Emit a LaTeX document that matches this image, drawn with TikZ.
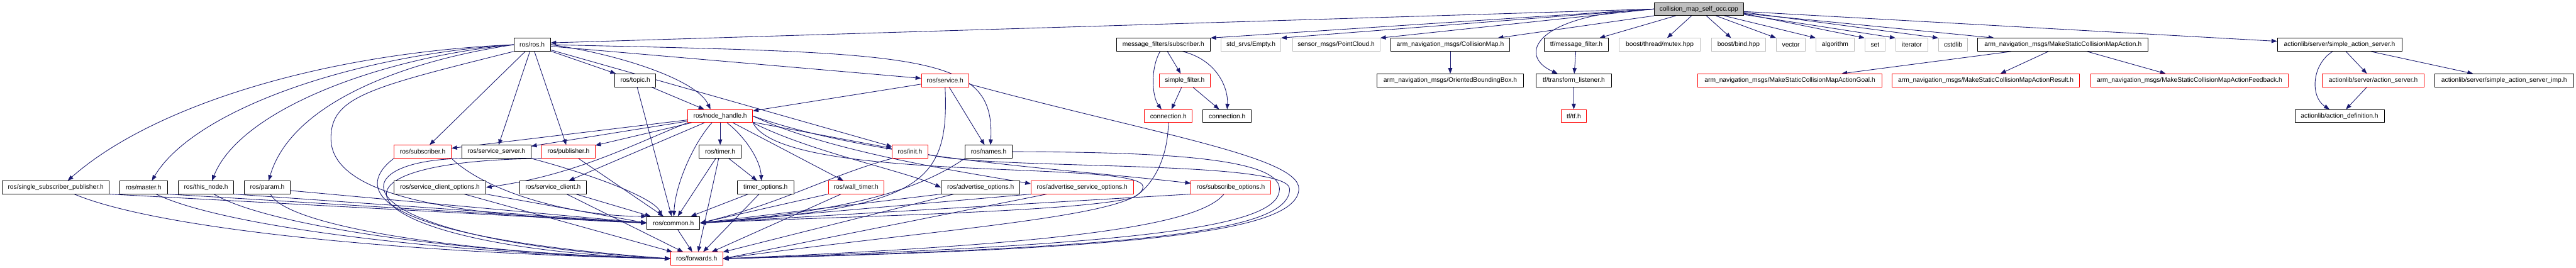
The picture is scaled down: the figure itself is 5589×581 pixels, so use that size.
\documentclass[tikz,border=0pt]{standalone}
\usepackage{fontspec}
\setmainfont{Liberation Sans}
\usetikzlibrary{arrows.meta,backgrounds}
\definecolor{edgeNavy}{HTML}{191970}
\definecolor{extGray}{HTML}{BFBFBF}
\definecolor{truncRed}{HTML}{FF0000}
\tikzset{
    hfile/.style={draw=black,fill=white,line width=1.3pt,minimum height=28pt,
        inner xsep=0pt,inner ysep=0pt,font=\fontsize{14}{16}\selectfont},
    extfile/.style={hfile,draw=extGray},
    cutfile/.style={hfile,draw=truncRed},
    srcfile/.style={hfile,fill=extGray},
    incl/.style={draw=edgeNavy,line width=1.2pt,-{Triangle[length=12pt,width=9pt]}}
}

\begin{document}
\begin{tikzpicture}[x=1pt,y=-1pt]
    \useasboundingbox (0,0) rectangle (5589,581);
    % source file
    \node[srcfile,minimum width=194pt] (src) at (3686,19.6) {collision\_map\_self\_occ.cpp};
    % first level
    \node[hfile,minimum width=79pt] (rosh) at (1154.5,97) {ros/ros.h};
    \node[hfile,minimum width=204pt] (mfsub) at (2524,97) {message\_filters/subscriber.h};
    \node[extfile,minimum width=130pt] (stdempty) at (2714,97) {std\_srvs/Empty.h};
    \node[extfile,minimum width=190pt] (pointcloud) at (2899,97) {sensor\_msgs/PointCloud.h};
    \node[hfile,minimum width=259pt] (collmap) at (3146.5,97) {arm\_navigation\_msgs/CollisionMap.h};
    \node[hfile,minimum width=140pt] (tfmsgf) at (3420,97) {tf/message\_filter.h};
    \node[extfile,minimum width=177pt] (mutex) at (3601,97) {boost/thread/mutex.hpp};
    \node[extfile,minimum width=118pt] (bindhpp) at (3772,97) {boost/bind.hpp};
    \node[extfile,minimum width=63pt] (stdvector) at (3885.5,97) {vector};
    \node[extfile,minimum width=83pt] (stdalgorithm) at (3981.5,97) {algorithm};
    \node[extfile,minimum width=44pt] (stdset) at (4068,97) {set};
    \node[extfile,minimum width=70pt] (stditerator) at (4148,97) {iterator};
    \node[extfile,minimum width=63pt] (cstdlib) at (4237.5,97) {cstdlib};
    \node[hfile,minimum width=370pt] (mscmaction) at (4476,97) {arm\_navigation\_msgs/MakeStaticCollisionMapAction.h};
    \node[hfile,minimum width=270pt] (sas) at (5076,97) {actionlib/server/simple\_action\_server.h};
    % second level
    \node[hfile,minimum width=89pt] (topic) at (1378.5,174.3) {ros/topic.h};
    \node[cutfile,minimum width=103pt] (service) at (2050.5,174.3) {ros/service.h};
    \node[cutfile,minimum width=111pt] (simplefilter) at (2570.5,174.3) {simple\_filter.h};
    \node[hfile,minimum width=319pt] (obb) at (3146.5,174.3) {arm\_navigation\_msgs/OrientedBoundingBox.h};
    \node[hfile,minimum width=163pt] (tflistener) at (3414.5,174.3) {tf/transform\_listener.h};
    \node[cutfile,minimum width=399pt] (actgoal) at (3883.5,174.3) {arm\_navigation\_msgs/MakeStaticCollisionMapActionGoal.h};
    \node[cutfile,minimum width=407pt] (actresult) at (4308.5,174.3) {arm\_navigation\_msgs/MakeStaticCollisionMapActionResult.h};
    \node[cutfile,minimum width=429pt] (actfeedback) at (4750.5,174.3) {arm\_navigation\_msgs/MakeStaticCollisionMapActionFeedback.h};
    \node[cutfile,minimum width=220pt] (actserver) at (5149,174.3) {actionlib/server/action\_server.h};
    \node[hfile,minimum width=302pt] (sasimp) at (5433,174.3) {actionlib/server/simple\_action\_server\_imp.h};
    % third level
    \node[cutfile,minimum width=141pt] (nodehandle) at (1562.5,251.7) {ros/node\_handle.h};
    \node[cutfile,minimum width=104pt] (connred) at (2535,251.7) {connection.h};
    \node[hfile,minimum width=105pt] (connblk) at (2662.5,251.7) {connection.h};
    \node[cutfile,minimum width=55pt] (tftf) at (3414.5,251.7) {tf/tf.h};
    \node[hfile,minimum width=194pt] (actdef) at (5076,251.7) {actionlib/action\_definition.h};
    % fourth level
    \node[cutfile,minimum width=124pt] (subscriber) at (917,329) {ros/subscriber.h};
    \node[hfile,minimum width=150pt] (servserver) at (1077,329) {ros/service\_server.h};
    \node[cutfile,minimum width=115pt] (publisher) at (1233.5,329) {ros/publisher.h};
    \node[hfile,minimum width=91pt] (timer) at (1562.5,329) {ros/timer.h};
    \node[cutfile,minimum width=77pt] (init) at (1974.5,329) {ros/init.h};
    \node[hfile,minimum width=102pt] (names) at (2145,329) {ros/names.h};
    % fifth level
    \node[hfile,minimum width=232pt] (ssp) at (121,406.4) {ros/single\_subscriber\_publisher.h};
    \node[hfile,minimum width=103pt] (master) at (311.5,406.4) {ros/master.h};
    \node[hfile,minimum width=120pt] (thisnode) at (447,406.4) {ros/this\_node.h};
    \node[hfile,minimum width=100pt] (param) at (580,406.4) {ros/param.h};
    \node[hfile,minimum width=199pt] (sco) at (954.5,406.4) {ros/service\_client\_options.h};
    \node[hfile,minimum width=144pt] (sclient) at (1200,406.4) {ros/service\_client.h};
    \node[hfile,minimum width=122pt] (timeropt) at (1661,406.4) {timer\_options.h};
    \node[cutfile,minimum width=121pt] (walltimer) at (1857.5,406.4) {ros/wall\_timer.h};
    \node[hfile,minimum width=171pt] (advopt) at (2127.5,406.4) {ros/advertise\_options.h};
    \node[cutfile,minimum width=222pt] (advsrvopt) at (2348,406.4) {ros/advertise\_service\_options.h};
    \node[cutfile,minimum width=173pt] (subopt) at (2670.5,406.4) {ros/subscribe\_options.h};
    % bottom
    \node[hfile,minimum width=115pt] (common) at (1461,483.7) {ros/common.h};
    \node[cutfile,minimum width=113pt] (forwards) at (1511.5,561) {ros/forwards.h};

    \begin{scope}[on background layer]
    % includes of the source file
    \draw[incl] (src.west) -- ([yshift=4pt]rosh.east);
    \draw[incl] (src.west) -- (mfsub.north east);
    \draw[incl] (src.west) -- (stdempty.north east);
    \draw[incl] (src.west) -- (pointcloud.north east);
    \draw[incl] (src.south west) -- (collmap);
    \foreach \t in {tfmsgf,mutex,bindhpp,mscmaction,sas}
        \draw[incl] (src) -- (\t);
    \draw[incl] ([xshift=37pt]src.south) -- (stdvector.north west);
    \draw[incl] ([xshift=55pt]src.south) -- (stdalgorithm.north west);
    \draw[incl] ([yshift=-10pt]src.east) -- (stdset.north west);
    \draw[incl] ([yshift=-12pt]src.east) -- (stditerator.north west);
    \draw[incl] ([yshift=-7pt]src.east) -- (cstdlib.north west);
    \draw[incl] (src.west) .. controls (3330,30) and (3290,120) .. ([xshift=-35pt]tflistener.north);
    % ros/ros.h
    \draw[incl] (rosh.west) .. controls (700,115) and (330,230) .. ([xshift=26pt]ssp.north);
    \draw[incl] (rosh.west) .. controls (760,120) and (420,240) .. ([xshift=18pt]master.north);
    \draw[incl] (rosh.west) .. controls (820,125) and (520,240) .. ([xshift=13pt]thisnode.north);
    \draw[incl] (rosh.west) .. controls (860,135) and (630,230) .. ([xshift=3pt]param.north);
    \draw[incl] (rosh.south west) .. controls (800,190) and (718,210) .. (718,300)
        .. controls (718,440) and (1050,470) .. (common.west);
    \foreach \t in {subscriber,servserver,publisher,topic,service,init}
        \draw[incl] (rosh) -- (\t);
    \draw[incl] (rosh.east) .. controls (1330,115) and (1510,170) .. ([xshift=-21pt]nodehandle.north);
    \draw[incl] (rosh.east) .. controls (2000,115) and (2160,115) .. ([xshift=4pt]names.north);
    % topic, service
    \draw[incl] (topic) -- (nodehandle);
    \draw[incl] (topic) -- (common);
    \draw[incl] (service) -- (nodehandle);
    \draw[incl] (service) -- (names);
    \draw[incl] (service.south) .. controls (2060,400) and (2000,450) .. (common.east);
    \draw[incl] ([yshift=-8pt]service.east) .. controls (2500,290) and (2820,340) .. (2818,410)
        .. controls (2815,500) and (2500,540) .. (forwards.east);
    % node handle
    \foreach \t in {subscriber,servserver,publisher,sclient,timer,walltimer,init}
        \draw[incl] (nodehandle) -- (\t);
    \draw[incl] (nodehandle.south west) .. controls (1380,310) and (1250,380) .. (sco.east);
    \draw[incl] ([xshift=15pt]nodehandle.south) .. controls (1620,300) and (1650,350) .. ([xshift=-9pt]timeropt.north);
    \draw[incl] (nodehandle.south east) .. controls (1760,330) and (1960,370) .. (advopt.west);
    \draw[incl] (nodehandle.east) .. controls (1800,330) and (2100,375) .. ([yshift=8pt]advsrvopt.west);
    \draw[incl] (nodehandle.east) .. controls (1900,345) and (2300,365) .. ([yshift=9pt]subopt.west);
    \draw[incl] ([xshift=-18pt]nodehandle.south) .. controls (1505,310) and (1465,400) .. ([xshift=1pt]common.north);
    \draw[incl] (nodehandle.south east) .. controls (1700,400) and (2480,345) .. (2480,405)
        .. controls (2480,470) and (2000,500) .. (forwards.east);
    % timers, init, names
    \draw[incl] (timer) -- (timeropt);
    \draw[incl] (timer) -- (common);
    \draw[incl] (timer) -- (forwards);
    \draw[incl] (timeropt) -- (common);
    \draw[incl] (timeropt) -- (forwards);
    \draw[incl] (walltimer.south west) -- (common.east);
    \draw[incl] (walltimer) -- (forwards);
    \draw[incl] (init.south west) .. controls (1800,380) and (1700,440) .. (common.east);
    \draw[incl] ([yshift=-6pt]init.east) .. controls (2150,370) and (2798,345) .. (2798,410)
        .. controls (2798,500) and (2500,537) .. (forwards.east);
    \draw[incl] (names.south west) .. controls (2010,400) and (1880,455) .. (common.east);
    \draw[incl] (names.east) .. controls (2500,330) and (2776,340) .. (2776,410)
        .. controls (2776,490) and (2500,530) .. (forwards.east);
    % subscriber, service server, publisher, clients
    \draw[incl] (subscriber.south east) .. controls (1060,420) and (1250,470) .. (common.north west);
    \draw[incl] (subscriber.south west) .. controls (780,400) and (760,510) .. (forwards.west);
    \draw[incl] (servserver.south east) .. controls (1290,380) and (1420,430) .. ([xshift=-25pt]common.north);
    \draw[incl] (servserver.south west) .. controls (720,350) and (740,520) .. (forwards.west);
    \draw[incl] (publisher) -- (common);
    \draw[incl] (publisher.south west) .. controls (620,350) and (780,540) .. (forwards.west);
    \draw[incl] (sco.south east) -- (common.west);
    \draw[incl] (sco) -- (forwards);
    \draw[incl] (sclient) -- (common);
    \draw[incl] (sclient) -- (forwards);
    % left group
    \draw[incl] (ssp.south east) -- (common.west);
    \draw[incl] (master.south east) -- (common.west);
    \draw[incl] (thisnode.south east) -- (common.west);
    \draw[incl] ([yshift=-7pt]param.east) -- (common.west);
    \draw[incl] ([xshift=40pt]ssp.south) .. controls (350,500) and (900,550) .. (forwards.west);
    \draw[incl] ([xshift=27pt]master.south) .. controls (480,490) and (950,550) .. (forwards.west);
    \draw[incl] ([xshift=17pt]thisnode.south) .. controls (580,490) and (1000,550) .. (forwards.west);
    \draw[incl] ([xshift=7pt]param.south) .. controls (620,490) and (1000,550) .. (forwards.west);
    % options
    \draw[incl] (advopt.south west) -- (common.east);
    \draw[incl] (advopt) -- (forwards);
    \draw[incl] (advsrvopt.south west) -- (common.east);
    \draw[incl] ([xshift=35pt]advsrvopt.south west) -- (forwards.east);
    \draw[incl] (subopt.south west) -- (common.east);
    \draw[incl] ([xshift=-15pt]subopt.south) .. controls (2600,490) and (2300,530) .. (forwards.east);
    \draw[incl] (connred.south) .. controls (2533,360) and (2490,410) .. (2460,428)
        .. controls (2350,460) and (1800,470) .. (common.east);
    \draw[incl] (common) -- (forwards);
    % message filters
    \draw[incl] ([xshift=-7pt]mfsub.south) .. controls (2495,150) and (2500,210) .. ([xshift=-15pt]connred.north);
    \draw[incl] (mfsub) -- (simplefilter);
    \draw[incl] ([xshift=42pt]mfsub.south) .. controls (2640,130) and (2665,190) .. (connblk.north);
    \draw[incl] (simplefilter) -- (connred);
    \draw[incl] (simplefilter) -- (connblk);
    % messages, tf, actionlib
    \draw[incl] (collmap) -- (obb);
    \draw[incl] (tfmsgf) -- (tflistener);
    \draw[incl] (tflistener) -- (tftf);
    \foreach \t in {actgoal,actresult,actfeedback}
        \draw[incl] (mscmaction) -- (\t);
    \draw[incl] (sas) -- (actserver);
    \draw[incl] (sas) -- (sasimp);
    \draw[incl] ([xshift=-15pt]sas.south) .. controls (5015,140) and (5012,210) .. ([xshift=-22pt]actdef.north);
    \draw[incl] (actserver) -- (actdef);
    \end{scope}
\end{tikzpicture}
\end{document}
